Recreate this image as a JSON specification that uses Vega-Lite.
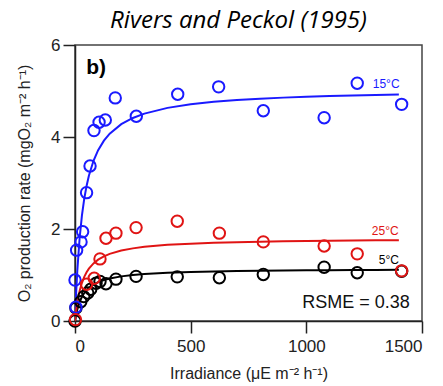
{
  "$schema": "https://vega.github.io/schema/vega-lite/v6.json",
  "width": 347,
  "height": 276,
  "autosize": {"type": "none"},
  "padding": {"left": 75, "top": 45, "right": 21, "bottom": 65},
  "title": {"text": "Rivers and Peckol (1995)", "font": "Open Sans", "fontStyle": "italic", "fontWeight": "normal", "fontSize": 24, "color": "#000", "offset": 3, "dx": -10, "anchor": "middle"},
  "config": {
    "view": {"stroke": "#444", "strokeWidth": 1.5}
  },
  "datasets": {
    "points": [
      {"irr": 0, "rate": 0.0, "temp": "5°C"},
      {"irr": 4, "rate": 0.28, "temp": "5°C"},
      {"irr": 25, "rate": 0.42, "temp": "5°C"},
      {"irr": 38, "rate": 0.53, "temp": "5°C"},
      {"irr": 55, "rate": 0.61, "temp": "5°C"},
      {"irr": 68, "rate": 0.69, "temp": "5°C"},
      {"irr": 91, "rate": 0.82, "temp": "5°C"},
      {"irr": 108, "rate": 0.86, "temp": "5°C"},
      {"irr": 134, "rate": 0.81, "temp": "5°C"},
      {"irr": 177, "rate": 0.91, "temp": "5°C"},
      {"irr": 264, "rate": 0.97, "temp": "5°C"},
      {"irr": 442, "rate": 0.96, "temp": "5°C"},
      {"irr": 624, "rate": 0.94, "temp": "5°C"},
      {"irr": 814, "rate": 1.01, "temp": "5°C"},
      {"irr": 1077, "rate": 1.17, "temp": "5°C"},
      {"irr": 1220, "rate": 1.05, "temp": "5°C"},
      {"irr": 1412, "rate": 1.08, "temp": "5°C"},
      {"irr": 4, "rate": 0.30, "temp": "15°C"},
      {"irr": 0, "rate": 0.89, "temp": "15°C"},
      {"irr": 7, "rate": 1.54, "temp": "15°C"},
      {"irr": 26, "rate": 1.72, "temp": "15°C"},
      {"irr": 33, "rate": 1.94, "temp": "15°C"},
      {"irr": 50, "rate": 2.79, "temp": "15°C"},
      {"irr": 65, "rate": 3.37, "temp": "15°C"},
      {"irr": 82, "rate": 4.14, "temp": "15°C"},
      {"irr": 104, "rate": 4.32, "temp": "15°C"},
      {"irr": 131, "rate": 4.37, "temp": "15°C"},
      {"irr": 174, "rate": 4.85, "temp": "15°C"},
      {"irr": 265, "rate": 4.45, "temp": "15°C"},
      {"irr": 444, "rate": 4.93, "temp": "15°C"},
      {"irr": 621, "rate": 5.09, "temp": "15°C"},
      {"irr": 814, "rate": 4.57, "temp": "15°C"},
      {"irr": 1077, "rate": 4.42, "temp": "15°C"},
      {"irr": 1220, "rate": 5.17, "temp": "15°C"},
      {"irr": 1412, "rate": 4.71, "temp": "15°C"},
      {"irr": 2, "rate": 0.03, "temp": "25°C"},
      {"irr": 50, "rate": 0.80, "temp": "25°C"},
      {"irr": 83, "rate": 0.93, "temp": "25°C"},
      {"irr": 108, "rate": 1.35, "temp": "25°C"},
      {"irr": 134, "rate": 1.80, "temp": "25°C"},
      {"irr": 177, "rate": 1.91, "temp": "25°C"},
      {"irr": 264, "rate": 2.03, "temp": "25°C"},
      {"irr": 442, "rate": 2.17, "temp": "25°C"},
      {"irr": 624, "rate": 1.91, "temp": "25°C"},
      {"irr": 814, "rate": 1.72, "temp": "25°C"},
      {"irr": 1077, "rate": 1.63, "temp": "25°C"},
      {"irr": 1220, "rate": 1.46, "temp": "25°C"},
      {"irr": 1412, "rate": 1.09, "temp": "25°C"}
    ],
    "fits": [
      {"irr": 0, "rate": 0, "temp": "5°C"},
      {"irr": 5, "rate": 0.14, "temp": "5°C"},
      {"irr": 10, "rate": 0.25, "temp": "5°C"},
      {"irr": 20, "rate": 0.415, "temp": "5°C"},
      {"irr": 30, "rate": 0.526, "temp": "5°C"},
      {"irr": 40, "rate": 0.608, "temp": "5°C"},
      {"irr": 50, "rate": 0.671, "temp": "5°C"},
      {"irr": 60, "rate": 0.72, "temp": "5°C"},
      {"irr": 80, "rate": 0.793, "temp": "5°C"},
      {"irr": 100, "rate": 0.844, "temp": "5°C"},
      {"irr": 125, "rate": 0.891, "temp": "5°C"},
      {"irr": 150, "rate": 0.924, "temp": "5°C"},
      {"irr": 200, "rate": 0.97, "temp": "5°C"},
      {"irr": 250, "rate": 1.0, "temp": "5°C"},
      {"irr": 300, "rate": 1.021, "temp": "5°C"},
      {"irr": 400, "rate": 1.048, "temp": "5°C"},
      {"irr": 500, "rate": 1.065, "temp": "5°C"},
      {"irr": 600, "rate": 1.077, "temp": "5°C"},
      {"irr": 700, "rate": 1.086, "temp": "5°C"},
      {"irr": 800, "rate": 1.092, "temp": "5°C"},
      {"irr": 900, "rate": 1.097, "temp": "5°C"},
      {"irr": 1000, "rate": 1.101, "temp": "5°C"},
      {"irr": 1100, "rate": 1.105, "temp": "5°C"},
      {"irr": 1200, "rate": 1.108, "temp": "5°C"},
      {"irr": 1300, "rate": 1.11, "temp": "5°C"},
      {"irr": 1400, "rate": 1.112, "temp": "5°C"},
      {"irr": 0, "rate": 0, "temp": "15°C"},
      {"irr": 5, "rate": 0.616, "temp": "15°C"},
      {"irr": 10, "rate": 1.098, "temp": "15°C"},
      {"irr": 20, "rate": 1.804, "temp": "15°C"},
      {"irr": 30, "rate": 2.295, "temp": "15°C"},
      {"irr": 40, "rate": 2.658, "temp": "15°C"},
      {"irr": 50, "rate": 2.936, "temp": "15°C"},
      {"irr": 60, "rate": 3.156, "temp": "15°C"},
      {"irr": 80, "rate": 3.483, "temp": "15°C"},
      {"irr": 100, "rate": 3.713, "temp": "15°C"},
      {"irr": 125, "rate": 3.921, "temp": "15°C"},
      {"irr": 150, "rate": 4.073, "temp": "15°C"},
      {"irr": 200, "rate": 4.28, "temp": "15°C"},
      {"irr": 250, "rate": 4.414, "temp": "15°C"},
      {"irr": 300, "rate": 4.509, "temp": "15°C"},
      {"irr": 400, "rate": 4.633, "temp": "15°C"},
      {"irr": 500, "rate": 4.711, "temp": "15°C"},
      {"irr": 600, "rate": 4.764, "temp": "15°C"},
      {"irr": 700, "rate": 4.803, "temp": "15°C"},
      {"irr": 800, "rate": 4.833, "temp": "15°C"},
      {"irr": 900, "rate": 4.856, "temp": "15°C"},
      {"irr": 1000, "rate": 4.875, "temp": "15°C"},
      {"irr": 1100, "rate": 4.89, "temp": "15°C"},
      {"irr": 1200, "rate": 4.903, "temp": "15°C"},
      {"irr": 1300, "rate": 4.914, "temp": "15°C"},
      {"irr": 1400, "rate": 4.924, "temp": "15°C"},
      {"irr": 0, "rate": 0, "temp": "25°C"},
      {"irr": 5, "rate": 0.225, "temp": "25°C"},
      {"irr": 10, "rate": 0.4, "temp": "25°C"},
      {"irr": 20, "rate": 0.655, "temp": "25°C"},
      {"irr": 30, "rate": 0.831, "temp": "25°C"},
      {"irr": 40, "rate": 0.96, "temp": "25°C"},
      {"irr": 50, "rate": 1.059, "temp": "25°C"},
      {"irr": 60, "rate": 1.137, "temp": "25°C"},
      {"irr": 80, "rate": 1.252, "temp": "25°C"},
      {"irr": 100, "rate": 1.333, "temp": "25°C"},
      {"irr": 125, "rate": 1.406, "temp": "25°C"},
      {"irr": 150, "rate": 1.459, "temp": "25°C"},
      {"irr": 200, "rate": 1.532, "temp": "25°C"},
      {"irr": 250, "rate": 1.579, "temp": "25°C"},
      {"irr": 300, "rate": 1.612, "temp": "25°C"},
      {"irr": 400, "rate": 1.655, "temp": "25°C"},
      {"irr": 500, "rate": 1.682, "temp": "25°C"},
      {"irr": 600, "rate": 1.701, "temp": "25°C"},
      {"irr": 700, "rate": 1.714, "temp": "25°C"},
      {"irr": 800, "rate": 1.725, "temp": "25°C"},
      {"irr": 900, "rate": 1.733, "temp": "25°C"},
      {"irr": 1000, "rate": 1.739, "temp": "25°C"},
      {"irr": 1100, "rate": 1.744, "temp": "25°C"},
      {"irr": 1200, "rate": 1.749, "temp": "25°C"},
      {"irr": 1300, "rate": 1.753, "temp": "25°C"},
      {"irr": 1400, "rate": 1.756, "temp": "25°C"}
    ]
  },
  "layer": [
    {
      "data": {"name": "fits"},
      "mark": {"type": "line", "strokeWidth": 2, "clip": true},
      "encoding": {
        "x": {"field": "irr", "type": "quantitative", "scale": {"domain": [0, 1500], "nice": false},
          "axis": {"values": [0, 500, 1000, 1500], "format": "d", "grid": false, "domainColor": "#222", "domainWidth": 1.5, "tickColor": "#222", "tickWidth": 1.5, "tickSize": 12, "labelPadding": 5, "labelFont": "Liberation Sans", "labelFontSize": 17, "labelColor": "#222", "title": "Irradiance (μE m⁻² h⁻¹)", "titleFont": "Liberation Sans", "titleFontSize": 16, "titleFontWeight": "normal", "titleColor": "#222", "titlePadding": 11}},
        "y": {"field": "rate", "type": "quantitative", "scale": {"domain": [0, 6], "nice": false},
          "axis": {"values": [0, 2, 4, 6], "format": "d", "grid": false, "domainColor": "#222", "domainWidth": 1.5, "tickColor": "#222", "tickWidth": 1.5, "tickSize": 12, "labelPadding": 3, "labelFont": "Liberation Sans", "labelFontSize": 17, "labelColor": "#222", "title": "O₂ production rate (mgO₂ m⁻² h⁻¹)", "titleFont": "Liberation Sans", "titleFontSize": 16, "titleFontWeight": "normal", "titleColor": "#222", "titlePadding": 18}},
        "color": {"field": "temp", "type": "nominal", "scale": {"domain": ["5°C", "15°C", "25°C"], "range": ["#000000", "#1a1aff", "#e01414"]}, "legend": null},
        "detail": {"field": "temp"}
      }
    },
    {
      "data": {"name": "points"},
      "mark": {"type": "point", "shape": "circle", "filled": false, "size": 130, "strokeWidth": 2, "opacity": 1},
      "encoding": {
        "x": {"field": "irr", "type": "quantitative"},
        "y": {"field": "rate", "type": "quantitative"},
        "color": {"field": "temp", "type": "nominal", "legend": null}
      }
    },
    {
      "data": {"values": [{}]},
      "mark": {"type": "text", "text": "b)", "font": "Liberation Sans", "fontSize": 21, "fontWeight": "bold", "color": "#000"},
      "encoding": {"x": {"datum": 91}, "y": {"datum": 5.5}}
    },
    {
      "data": {"values": [{}]},
      "mark": {"type": "text", "text": "15°C", "font": "Liberation Sans", "fontSize": 12, "color": "#1a1aff"},
      "encoding": {"x": {"datum": 1345}, "y": {"datum": 5.15}}
    },
    {
      "data": {"values": [{}]},
      "mark": {"type": "text", "text": "25°C", "font": "Liberation Sans", "fontSize": 12, "color": "#e01414"},
      "encoding": {"x": {"datum": 1341}, "y": {"datum": 1.96}}
    },
    {
      "data": {"values": [{}]},
      "mark": {"type": "text", "text": "5°C", "font": "Liberation Sans", "fontSize": 12, "color": "#000"},
      "encoding": {"x": {"datum": 1357}, "y": {"datum": 1.33}}
    },
    {
      "data": {"values": [{}]},
      "mark": {"type": "text", "text": "RSME = 0.38", "font": "Liberation Sans", "fontSize": 18, "color": "#111"},
      "encoding": {"x": {"datum": 1215}, "y": {"datum": 0.4}}
    }
  ]
}
